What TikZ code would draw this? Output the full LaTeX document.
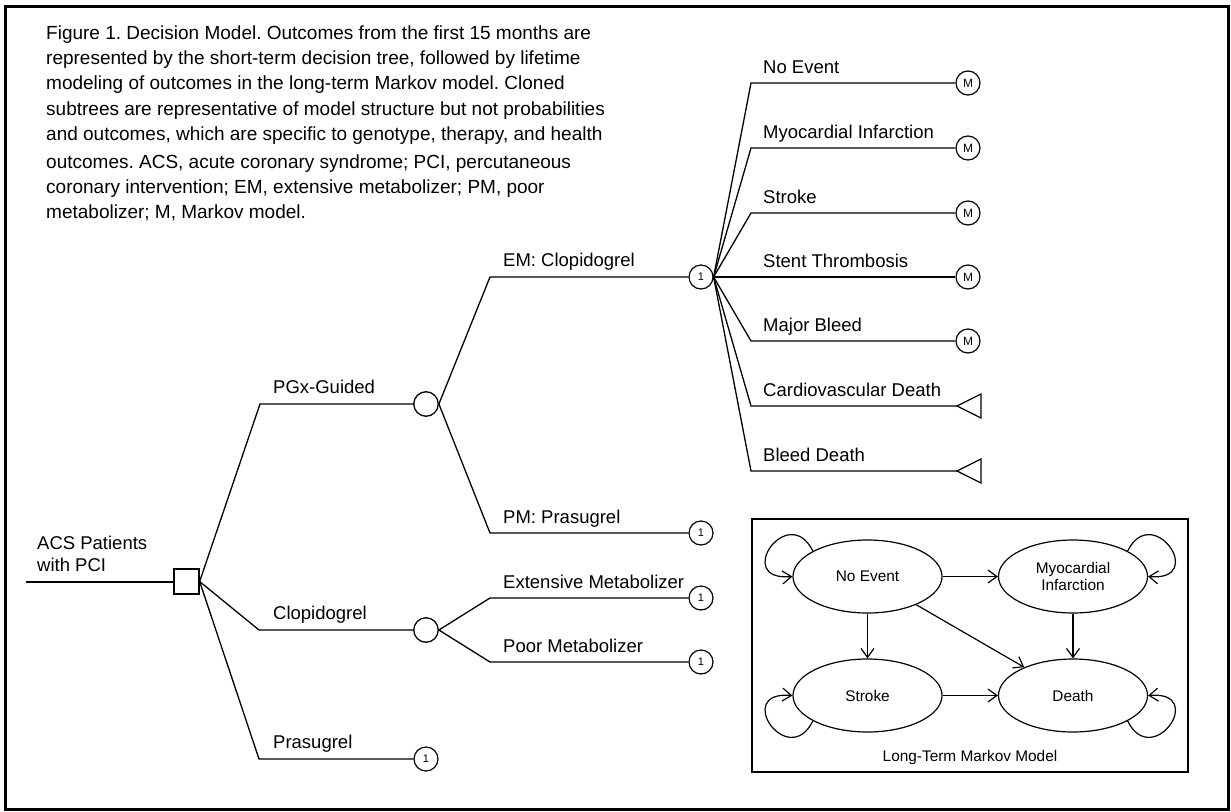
\documentclass[tikz,border=0pt]{standalone}
\usepackage{fontspec}
\setmainfont{Liberation Sans}
\usetikzlibrary{arrows.meta,shapes.geometric}
\frenchspacing
\begin{document}
\begin{tikzpicture}[x=1pt,y=-1pt,
  treeline/.style={line width=1.3pt},
  decbox/.style={draw,line width=1.3pt,minimum size=25pt,inner sep=0pt},
  chance/.style={circle,draw,line width=1.3pt,minimum size=24.5pt,inner sep=0pt},
  clone/.style={circle,draw,line width=1.2pt,minimum size=24pt,inner sep=0pt,font=\fontsize{11}{11}\selectfont},
  mnode/.style={circle,draw,line width=1.2pt,minimum size=24pt,inner sep=0pt,font=\fontsize{12}{12}\selectfont},
  lbl/.style={anchor=base west,inner sep=0pt,font=\fontsize{18.5}{22}\selectfont},
  captxt/.style={anchor=base west,inner sep=0pt,font=\fontsize{19}{25}\selectfont},
  mstate/.style={ellipse,draw,line width=1.2pt,minimum width=149pt,minimum height=73pt,inner sep=0pt,align=center,font=\fontsize{15.4}{17.6}\selectfont},
  mk/.style={line width=1.2pt,-{Straight Barb[length=9pt,width=13pt]}},
  termtri/.style={line width=1.2pt},
]
\useasboundingbox (0,0) rectangle (1231,811);
\fill[white] (0,0) rectangle (1231,811);
\draw[line width=3pt] (5,6.5) rectangle (1228,809.5);

% caption
\node[captxt] (cap1) at (46,39) {Figure 1. Decision Model. Outcomes from the first 15 months are};
\node[captxt] (cap2) at (46,64) {represented by the short-term decision tree, followed by lifetime};
\node[captxt] (cap3) at (46,89.5) {modeling of outcomes in the long-term Markov model. Cloned};
\node[captxt] (cap4) at (46,115) {subtrees are representative of model structure but not probabilities};
\node[captxt] (cap5) at (46,140.5) {and outcomes, which are specific to genotype, therapy, and health};
\node[captxt] (cap6) at (46,168) {outcomes. ACS, acute coronary syndrome; PCI, percutaneous};
\node[captxt] (cap7) at (46,193) {coronary intervention; EM, extensive metabolizer; PM, poor};
\node[captxt] (cap8) at (46,218) {metabolizer; M, Markov model.};

% decision node
\node[decbox] (dec) at (186.5,581.5) {};
\coordinate (root) at (26,582);
\draw[treeline] (root) -- (dec.west|-root);
\node[lbl] (acs1) at (37,549) {ACS Patients};
\node[lbl] (acs2) at (37,571) {with PCI};

% first level
\node[chance] (pgx) at (426,404) {};
\node[chance] (clo) at (426,630) {};
\node[clone] (pra) at (426,759) {1};
\coordinate (bpgx) at (260,404);
\coordinate (bclo) at (259,630);
\coordinate (bpra) at (259,759);
\draw[treeline] (dec.east) -- (bpgx) -- (pgx);
\draw[treeline] (dec.east) -- (bclo) -- (clo);
\draw[treeline] (dec.east) -- (bpra) -- (pra);
\node[lbl] (lpgx) at (273,393) {PGx-Guided};
\node[lbl] (lclo) at (273,619) {Clopidogrel};
\node[lbl] (lpra) at (273,748) {Prasugrel};

% second level
\node[clone] (em) at (701,277) {1};
\node[clone] (pm) at (701,533) {1};
\node[clone] (ext) at (701,598) {1};
\node[clone] (poor) at (701,662) {1};
\coordinate (bem) at (490,277);
\coordinate (bpm) at (490,533);
\coordinate (bext) at (490,598);
\coordinate (bpoor) at (490,662);
\draw[treeline] (pgx.east) -- (bem) -- (em);
\draw[treeline] (pgx.east) -- (bpm) -- (pm);
\draw[treeline] (clo.east) -- (bext) -- (ext);
\draw[treeline] (clo.east) -- (bpoor) -- (poor);
\node[lbl] (lem) at (503,266) {EM: Clopidogrel};
\node[lbl] (lpm) at (503,523) {PM: Prasugrel};
\node[lbl] (lext) at (503,588) {Extensive Metabolizer};
\node[lbl] (lpoor) at (503,652) {Poor Metabolizer};

% outcomes
\node[mnode] (o1) at (968,83) {M};
\node[mnode] (o2) at (968,148) {M};
\node[mnode] (o3) at (968,213) {M};
\node[mnode] (o4) at (968,277) {M};
\node[mnode] (o5) at (968,341) {M};
\coordinate (o6) at (957,406);
\coordinate (o7) at (957,471);
\draw[termtri] (o6) -- ++(24,-12) -- ++(0,24) -- cycle;
\draw[termtri] (o7) -- ++(24,-12) -- ++(0,24) -- cycle;
\coordinate (bo1) at (751,83);
\coordinate (bo2) at (751,148);
\coordinate (bo3) at (751,213);
\coordinate (bo4) at (751,277);
\coordinate (bo5) at (751,341);
\coordinate (bo6) at (751,406);
\coordinate (bo7) at (751,471);
\foreach \k in {1,...,7}{\draw[treeline] (em.east) -- (bo\k) -- (o\k);}
\node[lbl] (lo1) at (763,73) {No Event};
\node[lbl] (lo2) at (763,138) {Myocardial Infarction};
\node[lbl] (lo3) at (763,203) {Stroke};
\node[lbl] (lo4) at (763,267) {Stent Thrombosis};
\node[lbl] (lo5) at (763,331) {Major Bleed};
\node[lbl] (lo6) at (763,396) {Cardiovascular Death};
\node[lbl] (lo7) at (763,461) {Bleed Death};

% Markov model
\node[draw,line width=1.2pt,minimum width=436pt,minimum height=253pt,inner sep=0pt] (mbox) at (970,645.5) {};
\node[mstate] (ne) at (867.5,576.5) {No Event};
\node[mstate] (mi) at (1073,576.5) {Myocardial\\Infarction};
\node[mstate] (st) at (867.5,695.5) {Stroke};
\node[mstate] (de) at (1073,695.5) {Death};
\node[inner sep=0pt,font=\fontsize{15.4}{17.6}\selectfont] (mlabel) at (970,758) {Long-Term Markov Model};
\draw[mk] (ne.east) -- (mi.west);
\draw[mk] (ne.south) -- (st.north);
\draw[mk] (mi.south) -- (de.north);
\draw[mk] (st.east) -- (de.west);
\draw[mk] (ne) -- (de);
\draw[mk] (ne.155) .. controls +(-25,-50) and +(-60,5) .. (ne.west);
\draw[mk] (mi.25) .. controls +(25,-50) and +(60,5) .. (mi.east);
\draw[mk] (st.205) .. controls +(-25,50) and +(-60,-5) .. (st.west);
\draw[mk] (de.335) .. controls +(25,50) and +(60,-5) .. (de.east);
\end{tikzpicture}
\end{document}
